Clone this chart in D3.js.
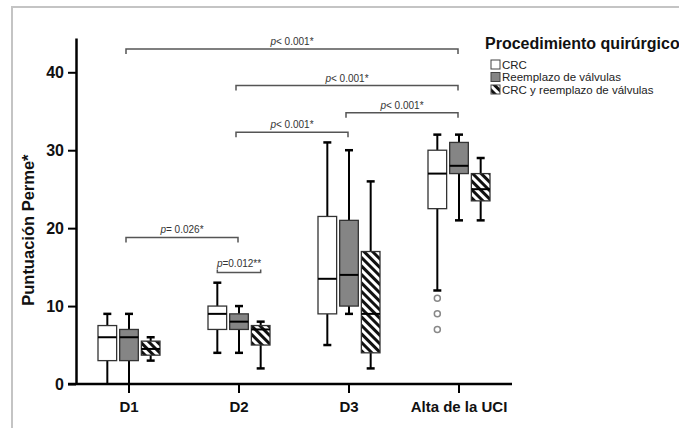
<!DOCTYPE html>
<html><head><meta charset="utf-8">
<script src="https://cdn.jsdelivr.net/npm/d3@7"></script>
<style>body{margin:0;background:#fff}svg{display:block;font-family:"Liberation Sans",Arial,sans-serif}</style>
</head><body><svg id="c" width="679" height="428"></svg>
<script>
const categories = ["D1","D2","D3","Alta de la UCI"];
const series = ["CRC","Reemplazo de válvulas","CRC y reemplazo de válvulas"];
// [min, q1, median, q3, max] per category
const crcStats   = [[0,3,6,7.5,9],[4,7,9,10,13],[5,9,13.5,21.5,31],[12,22.5,27,30,32]];
const valvStats  = [[0,3,6,7,9],[4,7,8,9,10],[9,10,14,21,30],[21,27,28,31,32]];
const bothStats  = [[3,3.7,4.5,5.5,6],[2,5,7,7.5,8],[2,4,9,17,26],[21,23.5,25,27,29]];
const crcOutliersAlta = [11,9,7];
const yTicks = [0,10,20,30,40];
// brackets: from category, to category, level, label
const brackets = [
  {from:"D1", to:"Alta de la UCI", level:43, label:"p< 0.001*"},
  {from:"D2", to:"Alta de la UCI", level:38.3, label:"p< 0.001*"},
  {from:"D3", to:"Alta de la UCI", level:34.8, label:"p< 0.001*"},
  {from:"D2", to:"D3", level:32.3, label:"p< 0.001*"},
  {from:"D1", to:"D2", level:18.8, label:"p= 0.026*"}
];

const svg = d3.select("#c");
const x = d3.scaleBand().domain(categories).range([74,514]).padding(0);
const inner = d3.scaleBand().domain(series).range([-31,31]).paddingInner(0.14);
const y = d3.scaleLinear().domain([0,44.4]).range([384,38]);
const cx = c => x(c) + x.bandwidth()/2;

// frame
svg.append("path").attr("d",`M12,428V7H679`).attr("fill","none").attr("stroke","#c4c4c4").attr("stroke-width",2);

const defs = svg.append("defs");
const pat = defs.append("pattern").attr("id","hatch").attr("patternUnits","userSpaceOnUse")
  .attr("width",6).attr("height",6).attr("patternTransform","rotate(-45)");
pat.append("rect").attr("width",6).attr("height",6).attr("fill","#fff");
pat.append("rect").attr("width",3).attr("height",6).attr("fill","#111");

const fills = {"CRC":"#ffffff","Reemplazo de válvulas":"#858585","CRC y reemplazo de válvulas":"url(#hatch)"};
const statsBy = {"CRC":crcStats,"Reemplazo de válvulas":valvStats,"CRC y reemplazo de válvulas":bothStats};

// axes
const yAxis = svg.append("g").attr("transform","translate(76,0)")
  .call(d3.axisLeft(y).tickValues(yTicks).tickSize(8).tickSizeOuter(0).tickPadding(4));
yAxis.select(".domain").attr("stroke","#000").attr("stroke-width",2.5);
yAxis.selectAll(".tick line").attr("stroke","#000").attr("stroke-width",2);
yAxis.selectAll(".tick text").attr("font-size",16).attr("font-weight","bold").attr("fill","#111").attr("font-family","Liberation Sans, Arial");

const xAxis = svg.append("g").attr("transform","translate(0,384)")
  .call(d3.axisBottom(x).tickSize(9).tickSizeOuter(0).tickPadding(8));
xAxis.select(".domain").attr("stroke","#000").attr("stroke-width",2.5).attr("d","M68,0H512");
xAxis.selectAll(".tick line").attr("stroke","#000").attr("stroke-width",2);
xAxis.selectAll(".tick text").attr("font-size",15).attr("font-weight","bold").attr("fill","#111").attr("font-family","Liberation Sans, Arial");

svg.append("text").attr("transform",`translate(34,${(y(0)+y(40))/2+2}) rotate(-90)`)
  .attr("text-anchor","middle").attr("font-size",16.5).attr("font-weight","bold").attr("fill","#111")
  .text("Puntuación Perme*");

// boxes
const bw = inner.bandwidth();
series.forEach(s=>{
  categories.forEach((c,i)=>{
    const [mn,q1,md,q3,mx] = statsBy[s][i];
    const xc = cx(c) + inner(s) + bw/2;
    const g = svg.append("g");
    g.append("line").attr("x1",xc).attr("x2",xc).attr("y1",y(mx)).attr("y2",y(q3)).attr("stroke","#000").attr("stroke-width",2);
    g.append("line").attr("x1",xc).attr("x2",xc).attr("y1",y(q1)).attr("y2",y(mn)).attr("stroke","#000").attr("stroke-width",2);
    [mx,mn].forEach(v=>{ if(v>0) g.append("line").attr("x1",xc-4).attr("x2",xc+4).attr("y1",y(v)).attr("y2",y(v)).attr("stroke","#000").attr("stroke-width",2.5); });
    g.append("rect").attr("x",xc-bw/2).attr("y",y(q3)).attr("width",bw).attr("height",y(q1)-y(q3))
      .attr("fill",fills[s]).attr("stroke","#333").attr("stroke-width",1.3);
    g.append("line").attr("x1",xc-bw/2).attr("x2",xc+bw/2).attr("y1",y(md)).attr("y2",y(md)).attr("stroke","#000").attr("stroke-width",2);
  });
});
// outliers
svg.selectAll("circle.out").data(crcOutliersAlta).join("circle")
  .attr("cx",cx("Alta de la UCI")+inner("CRC")+bw/2).attr("cy",d=>y(d)).attr("r",3)
  .attr("fill","#fff").attr("stroke","#888").attr("stroke-width",1.5);

// brackets
const bg = svg.append("g");
brackets.forEach(b=>{
  const x1 = cx(b.from)-3, x2 = cx(b.to)-1, yy = y(b.level);
  bg.append("path").attr("d",`M${x1},${yy+5}V${yy}H${x2}V${yy+5}`).attr("fill","none").attr("stroke","#555").attr("stroke-width",1.5);
  const t = bg.append("text").attr("x",(x1+x2)/2).attr("y",yy-4).attr("text-anchor","middle").attr("font-size",10).attr("fill","#333");
  t.append("tspan").attr("font-style","italic").text(b.label[0]);
  t.append("tspan").text(b.label.slice(1));
});
// within-D2 bracket (CRC vs combined)
{
  const x1 = cx("D2")+inner("CRC")+bw/2, x2 = cx("D2")+inner(series[2])+bw/2, yy = y(14.3);
  bg.append("path").attr("d",`M${x1},${yy-3}V${yy}H${x2}V${yy-3}`).attr("fill","none").attr("stroke","#555").attr("stroke-width",1.5);
  const t = bg.append("text").attr("x",(x1+x2)/2).attr("y",yy-6).attr("text-anchor","middle").attr("font-size",10).attr("fill","#333");
  t.append("tspan").attr("font-style","italic").text("p");
  t.append("tspan").text("=0.012**");
}

// legend
const lg = svg.append("g");
lg.append("text").attr("x",485).attr("y",49).attr("font-size",16).attr("font-weight","bold").attr("fill","#111").text("Procedimiento quirúrgico");
series.forEach((s,i)=>{
  const yy = 64.5 + i*12.5;
  lg.append("rect").attr("x",491).attr("y",yy-4.5).attr("width",9).attr("height",9).attr("fill",fills[s]).attr("stroke","#444").attr("stroke-width",1);
  lg.append("text").attr("x",502).attr("y",yy+4).attr("font-size",11.5).attr("fill","#222").text(s);
});
</script></body></html>
